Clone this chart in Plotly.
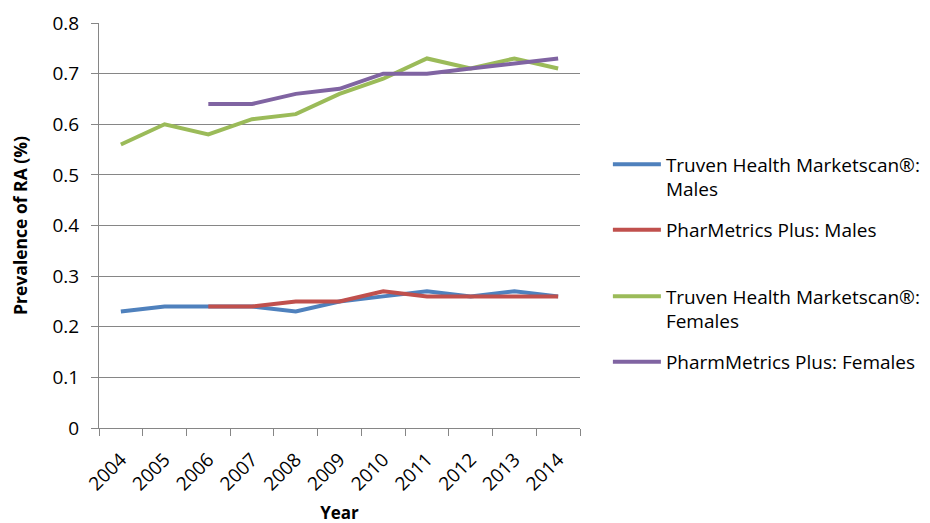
import plotly.graph_objects as go

years = ["2004", "2005", "2006", "2007", "2008", "2009", "2010", "2011", "2012", "2013", "2014"]
truven_males = [0.23, 0.24, 0.24, 0.24, 0.23, 0.25, 0.26, 0.27, 0.26, 0.27, 0.26]
pharmetrics_males = [None, None, 0.24, 0.24, 0.25, 0.25, 0.27, 0.26, 0.26, 0.26, 0.26]
truven_females = [0.56, 0.60, 0.58, 0.61, 0.62, 0.66, 0.69, 0.73, 0.71, 0.73, 0.71]
pharmetrics_females = [None, None, 0.64, 0.64, 0.66, 0.67, 0.70, 0.70, 0.71, 0.72, 0.73]

names = ["Truven Health Marketscan®:<br>Males", "PharMetrics Plus: Males",
         "Truven Health Marketscan®:<br>Females", "PharmMetrics Plus: Females"]
colors = ["#4F81BD", "#C0504D", "#9BBB59", "#8064A2"]
series = [truven_males, pharmetrics_males, truven_females, pharmetrics_females]
legend_ids = ["legend", "legend2", "legend3", "legend4"]
legend_y = [177, 230, 309, 362]   # page-pixel centres of legend entries

FONT = "Open Sans"
fig = go.Figure()
for n, c, s, lg in zip(names, colors, series, legend_ids):
    fig.add_trace(go.Scatter(x=years, y=s, name=n, mode="lines",
                             line=dict(color=c, width=4), legend=lg))

# page has an 8px body margin; target plot area (page px): x 99-582, y 23-428
OFF = 8
W, H = 930, 523
PL, PR, PT, PB = 99, 582, 23, 428
ml, mt = PL - OFF, PT - OFF
mr = W + OFF - PR
mb = H + OFF - PB
ph = PB - PT
pw = PR - PL
leg_common = dict(font=dict(family=FONT, size=19, color="#000"), itemwidth=48,
                  valign="top", bgcolor="rgba(0,0,0,0)", borderwidth=0,
                  xanchor="left", yanchor="middle", x=(610 - PL) / pw,
                  xref="paper", yref="paper", tracegroupgap=0)
layout_leg = {}
for lg, yy in zip(legend_ids, legend_y):
    d = dict(leg_common)
    d["y"] = (PB - yy) / ph
    layout_leg[lg] = d

fig.update_layout(
    width=W, height=H,
    margin=dict(l=ml, r=mr, t=mt, b=mb),
    plot_bgcolor="white", paper_bgcolor="white",
    font=dict(family=FONT, size=19, color="#000"),
    showlegend=True,
    **layout_leg,
)
fig.update_xaxes(type="category", range=[-0.5, 10.5], tickson="boundaries", ticks="outside", ticklen=7,
                 tickcolor="#868686", showline=True, linecolor="#868686", linewidth=1,
                 showgrid=False, tickangle=-45, tickfont=dict(size=19), automargin=False,
                 ticklabelstandoff=12,
                 title=dict(text="<b>Year</b>", font=dict(size=17), standoff=12))
fig.update_yaxes(range=[0, 0.8], dtick=0.1, ticks="outside", ticklen=7,
                 tickcolor="#868686", showline=True, linecolor="#868686", linewidth=1,
                 showgrid=True, gridcolor="#868686", gridwidth=1, zeroline=False,
                 tickfont=dict(size=19), automargin=False, ticklabelstandoff=8,
                 title=dict(text="<b>Prevalence of RA (%)</b>", font=dict(size=17.5), standoff=20))
fig.write_html("out.html")
